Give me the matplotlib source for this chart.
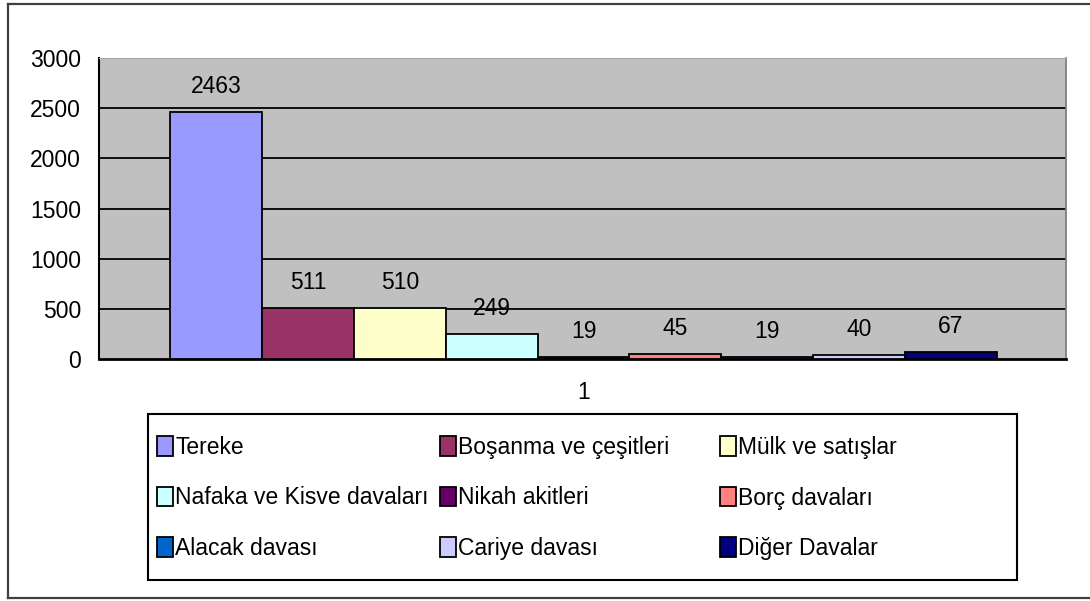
import matplotlib
matplotlib.use("Agg")
import matplotlib.pyplot as plt
from matplotlib.patches import Rectangle
from matplotlib.lines import Line2D

plt.rcParams['font.family'] = ['Liberation Sans', 'DejaVu Sans']

# davalar ve sayilari
categories = ["Tereke", "Boşanma ve çeşitleri", "Mülk ve satışlar",
              "Nafaka ve Kisve davaları", "Nikah akitleri", "Borç davaları",
              "Alacak davası", "Cariye davası", "Diğer Davalar"]
values = [2463, 511, 510, 249, 19, 45, 19, 40, 67]
colors = ["#9999FF", "#993366", "#FFFFCC", "#CCFFFF", "#660066",
          "#FF8080", "#0066CC", "#CCCCFF", "#000080"]
group_label = "1"
yticks = [0, 500, 1000, 1500, 2000, 2500, 3000]

W, H = 1090, 601
fig = plt.figure(figsize=(W / 100, H / 100), dpi=100)

# outer chart border (right side is cut off in the original)
def px(x, y):
    return x / W, 1 - y / H

for (x0, y0), (x1, y1) in [((8, 4), (1090, 4)), ((8, 4), (8, 598)),
                           ((8, 598), (1090, 598))]:
    a, b = px(x0, y0)
    c, d = px(x1, y1)
    fig.add_artist(Line2D([a, c], [b, d], transform=fig.transFigure,
                          color="#404040", linewidth=1.6))

ax = fig.add_axes([99 / W, 1 - 359 / H, 967 / W, 301 / H])
ax.set_facecolor("#C0C0C0")

n = len(values)
bars = []
for i, (v, c) in enumerate(zip(values, colors)):
    b = ax.bar(i - (n - 1) / 2, v, width=1.0, color=c, edgecolor="black",
               linewidth=1.3, zorder=3, label=categories[i])
    bars.append(b)
    ax.text(i - (n - 1) / 2, v + 255, str(v), ha="center", va="center",
            fontsize=16.5, zorder=4)

ax.set_xlim(-n / 2 - 0.773, n / 2 + 0.751)
ax.set_ylim(0, 3000)
ax.set_yticks(yticks)
ax.set_yticklabels([str(t) for t in yticks], fontsize=16.5)
ax.set_xticks([0])
ax.set_xticklabels([group_label], fontsize=16.5)
ax.tick_params(axis="y", length=0, pad=13)
ax.tick_params(axis="x", length=0, pad=16)
for t in yticks[1:-1]:
    ax.axhline(t, color="black", linewidth=1.3, zorder=1)
ax.spines["left"].set_color("black")
ax.spines["bottom"].set_color("black")
ax.spines["left"].set_linewidth(1.5)
ax.spines["bottom"].set_linewidth(2)
ax.spines["top"].set_color("#A8A8A8")
ax.spines["right"].set_color("#808080")
ax.spines["right"].set_linewidth(1.3)

# legend box with three columns, filled row-wise
fig.patches.append(Rectangle(px(148, 580), 869 / W, 166 / H,
                             transform=fig.transFigure, fill=False,
                             edgecolor="black", linewidth=1.5))
col_x = [157, 440, 720]
for col in range(3):
    idx = [col, col + 3, col + 6]
    leg = fig.legend([bars[k] for k in idx], [categories[k] for k in idx],
                     loc="upper left",
                     bbox_to_anchor=px(col_x[col], 436),
                     frameon=False, fontsize=16.5, handlelength=0.7,
                     handleheight=0.92, handletextpad=0.1,
                     labelspacing=1.2, borderpad=0, borderaxespad=0)

fig.savefig("out.png", dpi=100)
